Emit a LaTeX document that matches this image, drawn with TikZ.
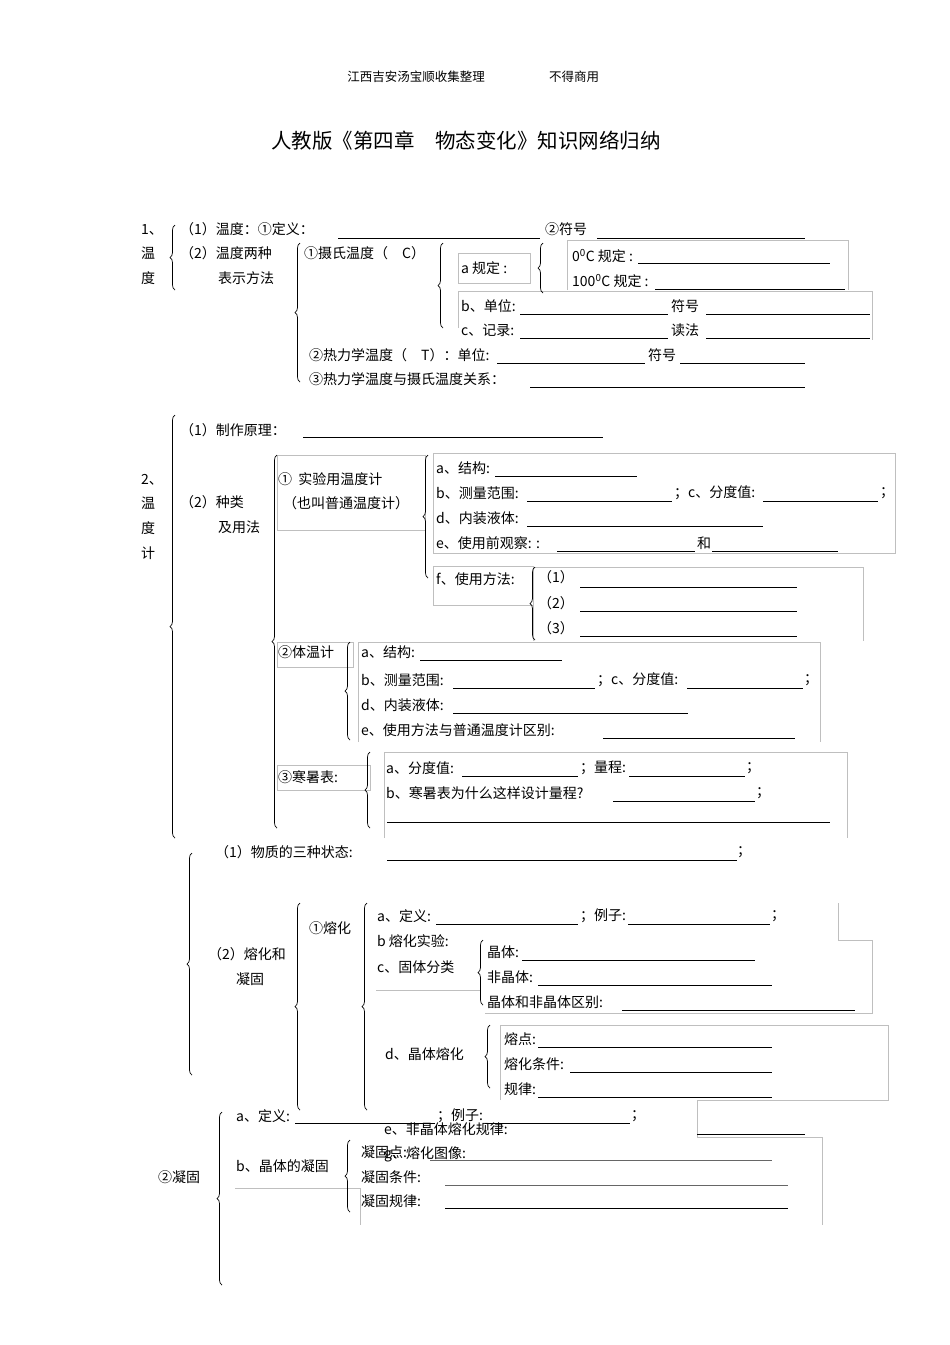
\documentclass[tikz,border=0pt]{standalone}
\usepackage{fontspec}
\setmainfont{Noto Sans CJK SC}
\usetikzlibrary{decorations.pathreplacing}
\tikzset{
 txt/.style={anchor=west,inner sep=0pt,font=\fontsize{14}{16}\selectfont},
 blank/.style={line width=0.8pt},
 gbox/.style={draw=black!25,line width=0.6pt},
 brc/.style={decorate,decoration={brace,amplitude=5pt,raise=0pt},line width=0.7pt}
}
\newcommand{\T}[4]{\node[txt] (#1) at (#2,#3) {#4};}
\newcommand{\BL}[3]{\draw[blank] (#1,#3) -- (#2,#3);}
\newcommand{\BR}[3]{\draw[brc] (#1,#3) -- (#1,#2);}
\newcommand{\GB}[4]{\draw[gbox] (#1,#2) rectangle (#3,#4);}
\begin{document}
\begin{tikzpicture}[x=1pt,y=-1pt]
\useasboundingbox (0,0) rectangle (950,1345);
% header
\node[font=\fontsize{12.5}{14}\selectfont] (h1) at (416,77) {江西吉安汤宝顺收集整理};
\node[font=\fontsize{12.5}{14}\selectfont] (h2) at (574,77) {不得商用};
\node[font=\fontsize{20.5}{24}\selectfont] (title) at (466,141) {人教版《第四章\quad 物态变化》知识网络归纳};
% gray boxes
\GB{458}{253}{530}{283}
\draw[gbox] (567,290) -- (567,240) -- (848,240) -- (848,290);
\draw[gbox] (458,328) -- (458,291) -- (872,291) -- (872,340);
\GB{277}{455}{425}{530}
\draw[gbox] (433,553) -- (433,453) -- (895,453) -- (895,553) -- (433,553);
\GB{433}{566}{533}{605}
\draw[gbox] (533,641) -- (533,567) -- (863,567) -- (863,641);
\GB{277}{642}{353}{667}
\draw[gbox] (358,742) -- (358,642) -- (820,642) -- (820,742);
\GB{277}{765}{370}{790}
\draw[gbox] (384,838) -- (384,752) -- (847,752) -- (847,838);
\draw[gbox] (376,990) -- (480,990);
\draw[gbox] (838,903) -- (838,940) -- (872,940) -- (872,1013) -- (485,1013);
\draw[gbox] (500,1100) -- (500,1025) -- (888,1025) -- (888,1100) -- (697,1100) -- (697,1137);
\draw[gbox] (697,1137) -- (822,1137) -- (822,1225);
\draw[gbox] (235,1188) -- (360,1188) -- (360,1225);
% section 1
\T{s1a}{141}{230}{1、}
\T{s1b}{141}{253}{温}
\T{s1c}{141}{278}{度}
\BR{175}{225}{290}
\T{t11}{180}{229}{（1）温度：①定义：}
\BL{338}{540}{238}
\T{t12}{545}{229}{②符号}
\BL{597}{805}{238}
\T{t13}{180}{253}{（2）温度两种}
\T{t14}{218}{278}{表示方法}
\BR{300}{243}{382}
\T{t15}{304}{253}{①摄氏温度（\quad C）}
\BR{443}{243}{328}
\T{t16}{461}{268}{a 规定 :}
\BR{543}{243}{293}
\T{t17}{572}{256}{0\textsuperscript{0}C 规定 :}
\BL{638}{830}{263}
\T{t18}{572}{281}{100\textsuperscript{0}C 规定 :}
\BL{655}{845}{289}
\T{t19}{461}{306}{b、单位:}
\BL{520}{668}{314}
\T{t20}{671}{306}{符号}
\BL{706}{870}{314}
\T{t21}{461}{330}{c、记录:}
\BL{520}{668}{338}
\T{t22}{671}{330}{读法}
\BL{706}{870}{338}
\T{t23}{309}{355}{②热力学温度（\quad T）：单位:}
\BL{497}{645}{363}
\T{t24}{648}{355}{符号}
\BL{680}{805}{363}
\T{t25}{309}{379}{③热力学温度与摄氏温度关系：}
\BL{530}{805}{387}
% section 2
\BR{175}{415}{838}
\T{s2a}{141}{480}{2、}
\T{s2b}{141}{503}{温}
\T{s2c}{141}{528}{度}
\T{s2d}{141}{553}{计}
\T{u1}{180}{430}{（1）制作原理：}
\BL{303}{603}{437}
\T{u2}{180}{502}{（2）种类}
\T{u3}{218}{527}{及用法}
\BR{277}{455}{828}
\T{u4}{278}{479}{①\ \ 实验用温度计}
\T{u5}{283}{503}{（也叫普通温度计）}
\BR{428}{455}{578}
\T{u6}{436}{468}{a、结构:}
\BL{495}{637}{476}
\T{u7}{436}{493}{b、测量范围:}
\BL{527}{672}{501}
\T{u8}{674}{493}{；c、分度值:}
\BL{763}{878}{501}
\T{u9}{880}{493}{；}
\T{u10}{436}{518}{d、内装液体:}
\BL{527}{763}{526}
\T{u11}{436}{543}{e、使用前观察: :}
\BL{557}{695}{551}
\T{u12}{697}{543}{和}
\BL{712}{838}{551}
\T{u13}{436}{579}{f、使用方法:}
\BR{535}{567}{640}
\T{u14}{538}{577}{（1）}
\BL{580}{797}{587}
\T{u15}{538}{603}{（2）}
\BL{580}{797}{611}
\T{u16}{538}{628}{（3）}
\BL{580}{797}{636}
\T{u17}{278}{652}{②体温计}
\BR{350}{642}{740}
\T{u18}{361}{652}{a、结构:}
\BL{420}{562}{660}
\T{u19}{361}{680}{b、测量范围:}
\BL{453}{595}{688}
\T{u20}{597}{680}{；c、分度值:}
\BL{687}{803}{688}
\T{u21}{804}{680}{；}
\T{u22}{361}{705}{d、内装液体:}
\BL{453}{688}{713}
\T{u23}{361}{730}{e、使用方法与普通温度计区别:}
\BL{603}{795}{738}
\T{u24}{278}{777}{③寒暑表:}
\BR{370}{752}{828}
\T{u25}{386}{768}{a、分度值:}
\BL{462}{578}{776}
\T{u26}{580}{768}{；量程:}
\BL{629}{745}{776}
\T{u27}{746}{768}{；}
\T{u28}{386}{793}{b、寒暑表为什么这样设计量程?}
\BL{613}{755}{801}
\T{u29}{756}{793}{；}
\BL{387}{830}{822}
% section 3
\BR{192}{853}{1075}
\T{v1}{215}{852}{（1）物质的三种状态:}
\BL{387}{737}{860}
\T{v2}{737}{852}{；}
\T{v3}{208}{954}{（2）熔化和}
\T{v4}{236}{979}{凝固}
\BR{300}{903}{1110}
\T{v5}{309}{928}{①熔化}
\BR{367}{903}{1110}
\T{v6}{377}{916}{a、定义:}
\BL{436}{578}{924}
\T{v7}{580}{916}{；例子:}
\BL{628}{770}{924}
\T{v8}{771}{916}{；}
\T{v9}{377}{941}{b 熔化实验:}
\T{v10}{377}{967}{c、固体分类}
\BR{483}{940}{1005}
\T{v11}{487}{952}{晶体:}
\BL{522}{755}{960}
\T{v12}{487}{977}{非晶体:}
\BL{538}{772}{985}
\T{v13}{487}{1002}{晶体和非晶体区别:}
\BL{622}{855}{1010}
\T{v14}{385}{1054}{d、晶体熔化}
\BR{490}{1025}{1088}
\T{v15}{504}{1039}{熔点:}
\BL{538}{772}{1047}
\T{v16}{504}{1064}{熔化条件:}
\BL{570}{772}{1072}
\T{v17}{504}{1089}{规律:}
\BL{538}{772}{1097}
\T{v18}{384}{1129}{e、非晶体熔化规律:}
\BL{697}{805}{1134}
\T{v19}{384}{1154}{g、熔化图像:}
\T{w1}{158}{1177}{②凝固}
\BR{222}{1112}{1285}
\T{w2}{236}{1116}{a、定义:}
\BL{295}{435}{1123}
\T{w3}{437}{1116}{；例子:}
\BL{485}{630}{1123}
\T{w4}{631}{1116}{；}
\T{w5}{236}{1166}{b、晶体的凝固}
\BR{350}{1140}{1212}
\T{w6}{361}{1152}{凝固点:}
\draw[blank,black!60] (430,1160) -- (772,1160);
\T{w7}{361}{1177}{凝固条件:}
\draw[blank,black!60] (445,1185) -- (788,1185);
\T{w8}{361}{1201}{凝固规律:}
\BL{445}{788}{1208}
\end{tikzpicture}
\end{document}
